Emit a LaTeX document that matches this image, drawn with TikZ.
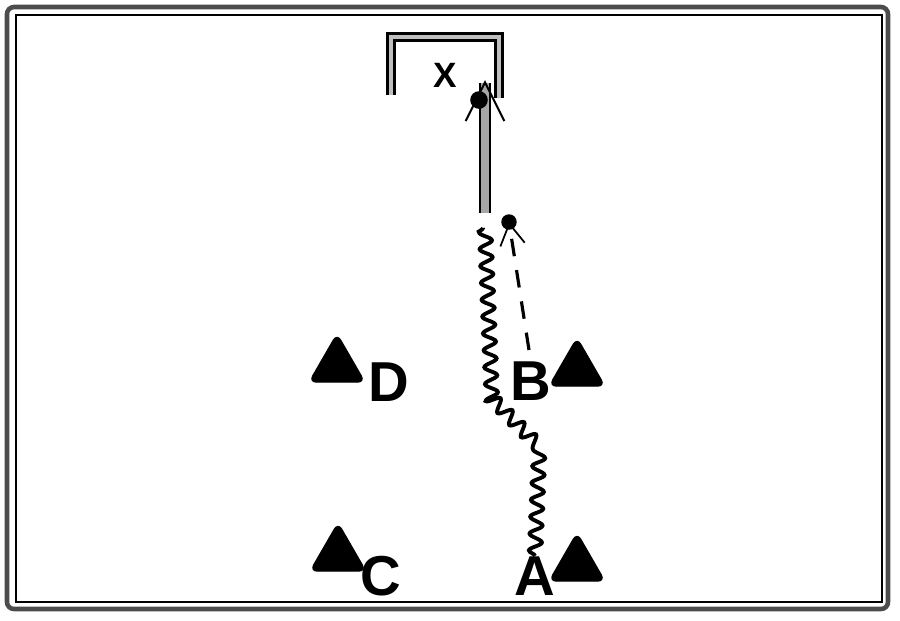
\documentclass[tikz,border=0pt]{standalone}
\usepackage{fontspec}
\setmainfont{Liberation Sans}
\usetikzlibrary{shapes.geometric,arrows.meta,decorations.pathmorphing}

\begin{document}
\begin{tikzpicture}[x=0.01cm,y=-0.01cm,
        cone/.style={regular polygon,regular polygon sides=3,fill=black,draw=black,
                     minimum size=0.64cm,inner sep=0pt,rounded corners=2pt},
        player/.style={font=\bfseries\fontsize{16}{19}\selectfont,inner sep=0pt},
        dribble/.style={line width=1.1pt,decorate,
                        decoration={snake,amplitude=1.8pt,segment length=4.8pt}},
        run/.style={line width=0.9pt,dash pattern=on 5pt off 4pt,
                    -{Straight Barb[length=6pt,width=7pt,line width=0.5pt]}},
        shot/.style={draw=black,line width=0.6pt,double=gray!70,double distance=2.4pt,
                     -{Straight Barb[length=11pt,width=11pt,line width=0.6pt]}}]
    \useasboundingbox (0,0) rectangle (900,620);
    \draw[line width=1.3pt,draw=gray!60!black,rounded corners=2pt] (7,7) rectangle (888,609);
    \draw[line width=0.7pt] (16,15) rectangle (882,602);
    \draw[line width=0.7pt,double=gray!50,double distance=1.4pt] (391,95) -- (391,37) -- (499,37) -- (499,98);
             \node[font=\bfseries\fontsize{10}{12}\selectfont] (goalX) at (445,75) {X};
             \node[cone] (coneD) at (337,366) {};
             \node[player] (D) at (389,382) {D};
             \node[cone] (coneC) at (338,555) {};
             \node[player] (C) at (381,576) {C};
             \node[cone] (coneB) at (577,370) {};
             \node[player] (B) at (531,381) {B};
             \node[cone] (coneA) at (577,565) {};
             \node[player] (A) at (535,576) {A};
    \coordinate (shotstart) at (485,213);
    \coordinate (target) at (485,80);
    \coordinate (runend) at (509,222);
    \draw[dribble] (A.north) -- (539,455) -- (490,405) -- (483,228);
    \draw[run] (529,350) -- (runend);
    \fill (runend) circle (2.2pt);
    \draw[shot] (shotstart) -- (target);
    \fill (479,100) circle (2.5pt);
    \end{tikzpicture}
\end{document}
